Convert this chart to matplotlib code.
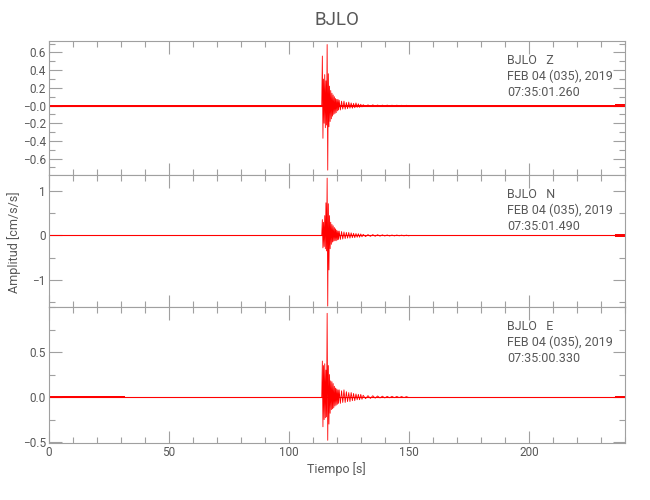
import numpy as np
import matplotlib
matplotlib.use("Agg")
import matplotlib.pyplot as plt
from matplotlib.ticker import FixedLocator, FixedFormatter, MultipleLocator

# --- data ---
station = "BJLO"
components = ["Z", "N", "E"]
date_txt = "FEB 04 (035), 2019"
start_times = ["07:35:01.260", "07:35:01.490", "07:35:00.330"]

# sample times of the burst (s)
t_burst = np.concatenate([np.arange(113.75, 121.0, 0.25),
                          np.arange(121.0, 131.0, 0.5),
                          np.arange(131.0, 151.0, 1.0)])

z_burst = [0.0, 0.56, -0.37, 0.30, -0.20, 0.35, -0.25, 0.28, -0.22,
           0.69, -0.73, 0.36, -0.24, 0.22, -0.18, 0.17, -0.15, 0.14, -0.12,
           0.12, -0.10, 0.10, -0.09, 0.08, -0.08, 0.07, -0.06, 0.07, -0.05,
           0.06, -0.05, 0.05, -0.04, 0.05, -0.04, 0.035, -0.035, 0.04, -0.03,
           0.03, -0.03, 0.025, -0.025, 0.03, -0.02, 0.02, -0.02, 0.015, -0.015,
           0.01, -0.01, 0.008, -0.008, 0.008, -0.006, 0.006, -0.006, 0.005, -0.005,
           0.005, -0.004, 0.004, -0.004, 0.004, -0.003, 0.003, -0.003, 0.003, -0.003]

n_burst = [0.0, 0.36, -0.28, 0.30, -0.25, 0.45, -0.30, 0.74, -0.35,
           1.30, -1.60, 0.72, -0.78, 0.45, -0.30, 0.30, -0.20, 0.25, -0.15,
           0.22, -0.13, 0.18, -0.12, 0.15, -0.12, 0.12, -0.10, 0.10, -0.09,
           0.10, -0.09, 0.09, -0.08, 0.08, -0.07, 0.07, -0.06, 0.07, -0.06,
           0.06, -0.05, 0.05, -0.05, 0.045, -0.04, 0.04, -0.04, 0.035, -0.03,
           0.025, -0.025, 0.02, -0.02, 0.02, -0.018, 0.018, -0.015, 0.015, -0.012,
           0.012, -0.012, 0.01, -0.01, 0.01, -0.008, 0.008, -0.008, 0.008, -0.008]

e_burst = [0.0, 0.40, -0.33, 0.35, -0.25, 0.37, -0.23, 0.30, -0.22,
           0.93, -0.48, 0.35, -0.30, 0.25, -0.18, 0.18, -0.14, 0.17, -0.13,
           0.15, -0.12, 0.12, -0.10, 0.10, -0.09, 0.09, -0.08, 0.08, -0.07,
           0.08, -0.07, 0.07, -0.06, 0.08, -0.06, 0.06, -0.05, 0.05, -0.05,
           0.05, -0.04, 0.04, -0.04, 0.035, -0.03, 0.03, -0.03, 0.03, -0.025,
           0.02, -0.018, 0.016, -0.015, 0.015, -0.012, 0.012, -0.01, 0.01, -0.01,
           0.008, -0.008, 0.008, -0.007, 0.007, -0.006, 0.006, -0.006, 0.005, -0.005]

# background noise level (half width) in segments
noise_t = [0, 32, 32, 236, 236, 240]
z_noise = [0.008, 0.008, 0.003, 0.003, 0.015, 0.015]
n_noise = [0.02, 0.02, 0.015, 0.015, 0.03, 0.03]
e_noise = [0.008, 0.008, 0.006, 0.006, 0.012, 0.012]

ylims = [(-0.785, 0.73), (-1.62, 1.37), (-0.51, 1.0)]
yticks = [[0.6, 0.4, 0.2, 0.0, -0.2, -0.4, -0.6], [1, 0, -1], [0.5, 0.0, -0.5]]
ylabels = [["0.6", "0.4", "0.2", "\u22120.0", "\u22120.2", "\u22120.4", "\u22120.6"],
           ["1", "0", "\u22121"],
           ["0.5", "0.0", "\u22120.5"]]
yminor = [0.1, 0.5, 0.25]

bursts = [z_burst, n_burst, e_burst]
noises = [z_noise, n_noise, e_noise]

# --- plot ---
FONT = ["Roboto", "DejaVu Sans"]
TXT = "#585858"
AX = "#a0a0a0"
plt.rcParams["font.family"] = FONT

fig = plt.figure(figsize=(6.5, 5), dpi=100)
W, H = 650, 500
left, right = 48.5, 625
edges = [41, 175, 307, 443]

for i in range(3):
    ax = fig.add_axes([left / W, 1 - edges[i + 1] / H, (right - left) / W,
                       (edges[i + 1] - edges[i]) / H])

    nz = np.array(noises[i])
    ax.fill_between(noise_t, -nz, nz, color="red", lw=0)
    ax.plot([0, 240], [0, 0], color="red", lw=0.8)
    ax.plot(t_burst, bursts[i], color="red", lw=0.6)

    ax.set_xlim(0, 240)
    ax.set_ylim(*ylims[i])
    ax.xaxis.set_major_locator(MultipleLocator(50))
    ax.xaxis.set_minor_locator(MultipleLocator(10))
    ax.yaxis.set_major_locator(FixedLocator(yticks[i]))
    ax.yaxis.set_major_formatter(FixedFormatter(ylabels[i]))
    ax.yaxis.set_minor_locator(MultipleLocator(yminor[i]))
    ax.tick_params(which="both", direction="in", top=True, right=True,
                   colors=AX, labelcolor=TXT, labelsize=8.5, width=0.8, pad=2)
    ax.tick_params(which="major", length=9)
    ax.tick_params(which="minor", length=4.5)
    for s in ax.spines.values():
        s.set_color(AX)
        s.set_linewidth(0.8)
    if i < 2:
        ax.tick_params(labelbottom=False)

    lines = [f"{station}   {components[i]}", date_txt, start_times[i]]
    hpx = edges[i + 1] - edges[i]
    for k, s in enumerate(lines):
        ax.text((507 - left) / (right - left), 1 - (20 + 15.5 * k) / hpx, s,
                transform=ax.transAxes, ha="left", va="center",
                color=TXT, fontsize=9)

fig.text((left + right) / 2 / W, 1 - 20 / H, station, ha="center", va="center",
         color=TXT, fontsize=13.5)
fig.text((left + right) / 2 / W, 1 - 469 / H, "Tiempo [s]", ha="center",
         va="center", color=TXT, fontsize=9)
fig.text(14 / W, 1 - 242 / H, "Amplitud [cm/s/s]", ha="center", va="center",
         rotation=90, color=TXT, fontsize=9)

fig.savefig("out.png", dpi=100)
